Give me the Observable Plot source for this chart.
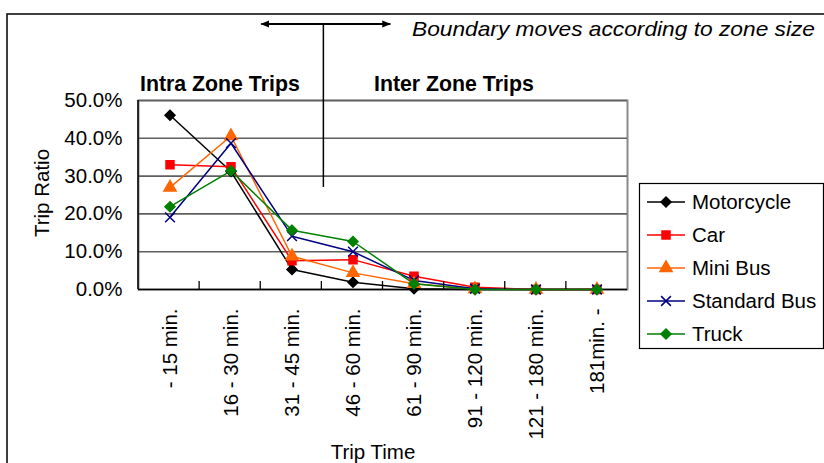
<!DOCTYPE html>
<html>
<head>
<meta charset="utf-8">
<script src="https://cdn.jsdelivr.net/npm/d3@7"></script>
<script src="https://cdn.jsdelivr.net/npm/@observablehq/plot@0.6"></script>
<style>
  html, body { margin: 0; padding: 0; background: #fff; }
  #chart { position: relative; width: 824px; height: 463px; overflow: hidden; font-family: "Liberation Sans", Arial, sans-serif; }
  #chart svg { position: absolute; left: 0; top: 0; }
</style>
</head>
<body>
<div id="chart"></div>
<script>
const categories = ["- 15 min.", "16 - 30 min.", "31 - 45 min.", "46 - 60 min.", "61 - 90 min.", "91 - 120 min.", "121 - 180 min.", "181min. -"];
const seriesNames = ["Motorcycle", "Car", "Mini Bus", "Standard Bus", "Truck"];
const seriesColors = ["#000000", "#FF0000", "#FF6600", "#000080", "#008000"];
const seriesSymbols = ["diamond2", "square", "triangle", "times", "diamond2"];
const motorcycle = [0.461, 0.312, 0.053, 0.019, 0.002, 0.000, 0.000, 0.000];
const car        = [0.330, 0.325, 0.076, 0.079, 0.035, 0.006, 0.000, 0.000];
const miniBus    = [0.270, 0.406, 0.088, 0.044, 0.015, 0.001, 0.000, 0.000];
const standardBus= [0.191, 0.387, 0.141, 0.100, 0.024, 0.002, 0.000, 0.000];
const truck      = [0.219, 0.314, 0.157, 0.127, 0.015, 0.000, 0.000, 0.000];
const yTicks = [0, 0.1, 0.2, 0.3, 0.4, 0.5];
const xLabel = "Trip Time";
const yLabel = "Trip Ratio";
const zoneLabels = ["Intra Zone Trips", "Inter Zone Trips"];
const note = "Boundary moves according to zone size";

const values = [motorcycle, car, miniBus, standardBus, truck];
const data = [];
seriesNames.forEach((s, i) => values[i].forEach((v, j) => data.push({series: s, cat: categories[j], value: v})));

const W = 824, H = 463;
const mL = 138, mR = 197, mT = 100, mB = 174;
const font = "'Liberation Sans', Arial, sans-serif";
const FS = 20.5;

const plot = Plot.plot({
  width: W, height: H,
  marginLeft: mL, marginRight: mR, marginTop: mT, marginBottom: mB,
  style: {fontFamily: font, fontSize: FS + "px", color: "#000", background: "transparent"},
  x: {type: "band", domain: categories, padding: 0, label: null},
  y: {domain: [0, 0.5], label: null},
  color: {domain: seriesNames, range: seriesColors},
  symbol: {domain: seriesNames, range: seriesSymbols},
  marks: [
    Plot.frame({stroke: "#8a8a8a", strokeWidth: 2}),
    Plot.ruleY(yTicks.filter(d => d > 0), {stroke: "#5f5f5f", strokeWidth: 1.6}),
    Plot.ruleY([0], {stroke: "#000", strokeWidth: 1.5}),
    Plot.axisY({ticks: yTicks, tickFormat: d => (d * 100).toFixed(1) + "%", tickSize: 0, tickPadding: 16, fontSize: FS, label: null}),
    Plot.axisX({tickRotate: -90, tickSize: 0, tickPadding: 19, fontSize: FS, label: null}),
    Plot.line(data, {x: "cat", y: "value", z: "series", stroke: "series", strokeWidth: 1.5}),
    Plot.dot(data, {x: "cat", y: "value", symbol: "series", fill: "series", stroke: "series", r: 4.5, strokeWidth: 1.5})
  ]
});
document.getElementById("chart").appendChild(plot);

// overlay annotations
const xb = d3.scaleBand(categories, [mL, W - mR]).padding(0);
const y = d3.scaleLinear([0, 0.5], [H - mB, mT]);
const svg = d3.select("#chart").append("svg").attr("width", W).attr("height", H)
  .style("font-family", font).style("pointer-events", "none");

// outer chart border
svg.append("path").attr("d", `M7,${H}V14H${W}`).attr("fill", "none").attr("stroke", "#000").attr("stroke-width", 1.5);

// left axis line
svg.append("line").attr("x1", mL).attr("x2", mL).attr("y1", mT).attr("y2", H - mB).attr("stroke", "#000").attr("stroke-width", 1.5);
// category ticks between bands (inside)
categories.slice(1).forEach(c => {
  const xx = xb(c);
  svg.append("line").attr("x1", xx).attr("x2", xx).attr("y1", H - mB).attr("y2", H - mB - 8).attr("stroke", "#000").attr("stroke-width", 1.3);
});

// boundary line and arrow (between "31 - 45" and "46 - 60")
const bx = xb(categories[3]) + 2;
const defs = svg.append("defs");
defs.append("marker").attr("id", "ah").attr("viewBox", "0 0 10 10").attr("refX", 9).attr("refY", 5)
  .attr("markerWidth", 9).attr("markerHeight", 9).attr("markerUnits", "userSpaceOnUse").attr("orient", "auto-start-reverse")
  .append("path").attr("d", "M0,1L10,5L0,9Z").attr("fill", "#000");
svg.append("line").attr("x1", bx).attr("x2", bx).attr("y1", 24).attr("y2", y(0.27)).attr("stroke", "#000").attr("stroke-width", 1.5);
svg.append("line").attr("x1", bx - 62).attr("x2", bx + 67).attr("y1", 24).attr("y2", 24).attr("stroke", "#000").attr("stroke-width", 2)
  .attr("marker-start", "url(#ah)").attr("marker-end", "url(#ah)");
svg.append("text").attr("x", 815).attr("y", 36).attr("text-anchor", "end").attr("font-style", "italic").attr("font-size", 21)
  .attr("textLength", 403).attr("lengthAdjust", "spacingAndGlyphs").text(note);

// zone labels
svg.append("text").attr("x", 140).attr("y", 91).attr("font-weight", "bold").attr("font-size", 21.3).text(zoneLabels[0]);
svg.append("text").attr("x", 374).attr("y", 91).attr("font-weight", "bold").attr("font-size", 21.3).text(zoneLabels[1]);

// axis titles
svg.append("text").attr("transform", `translate(49,193) rotate(-90)`).attr("text-anchor", "middle").attr("font-size", FS).text(yLabel);
svg.append("text").attr("x", 373).attr("y", 459).attr("text-anchor", "middle").attr("font-size", FS).text(xLabel);

// legend
const lg = svg.append("g");
lg.append("rect").attr("x", 639.5).attr("y", 183.5).attr("width", 184).attr("height", 165).attr("fill", "#fff").attr("stroke", "#000").attr("stroke-width", 1.2);
const symGen = {
  diamond2: d3.symbolDiamond2, square: d3.symbolSquare, triangle: d3.symbolTriangle, times: d3.symbolTimes
};
seriesNames.forEach((s, i) => {
  const yy = 202 + i * 33;
  lg.append("line").attr("x1", 647).attr("x2", 685).attr("y1", yy).attr("y2", yy).attr("stroke", seriesColors[i]).attr("stroke-width", 1.5);
  lg.append("path").attr("transform", `translate(666,${yy})`).attr("d", d3.symbol(symGen[seriesSymbols[i]], 64)())
    .attr("fill", seriesColors[i]).attr("stroke", seriesColors[i]).attr("stroke-width", 1.5);
  lg.append("text").attr("x", 692).attr("y", yy + 7).attr("font-size", FS).text(s);
});
</script>
</body>
</html>
